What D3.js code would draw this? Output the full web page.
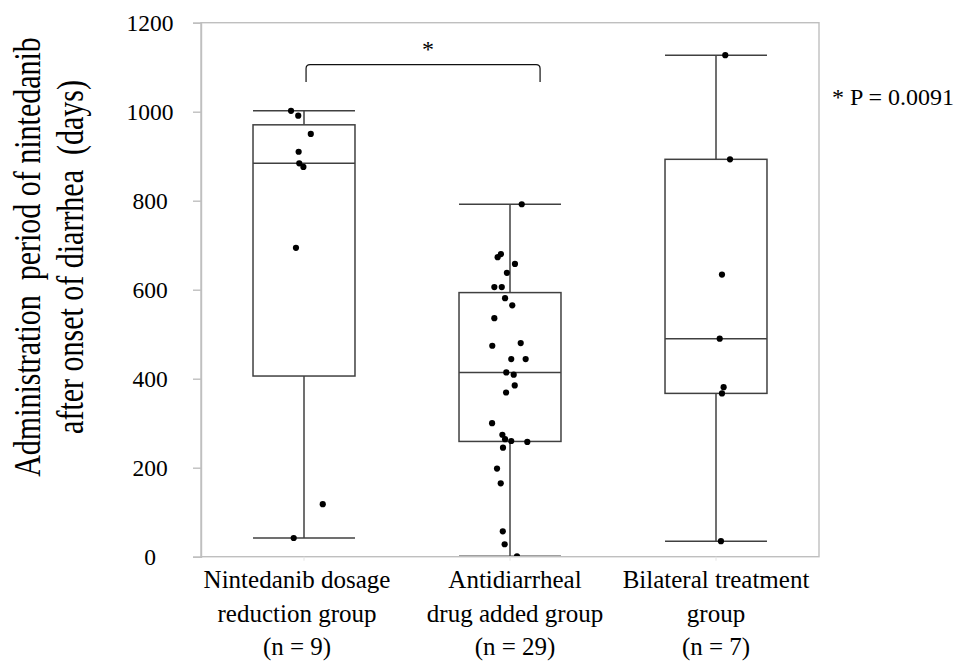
<!DOCTYPE html>
<html>
<head>
<meta charset="utf-8">
<script src="https://cdn.jsdelivr.net/npm/d3@7"></script>
<style>
  html, body { margin: 0; padding: 0; background: #fff; }
  svg { display: block; }
  text { font-family: "Liberation Serif", "Times New Roman", serif; fill: #000; white-space: pre; }
</style>
</head>
<body>
<svg id="chart" width="965" height="664"></svg>
<script>
// ---------------- DATA ----------------
const categories = ["reduction", "antidiarrheal", "bilateral"];
const categoryLabels = [
  ["Nintedanib dosage", "reduction group", "(n = 9)"],
  ["Antidiarrheal", "drug added group", "(n = 29)"],
  ["Bilateral treatment", "group", "(n = 7)"]
];
// days
const reductionValues = [1002, 991, 950, 910, 884, 876, 694, 118, 42];
const antidiarrhealValues = [792, 680, 673, 658, 638, 606, 606, 581, 565, 536, 474, 480, 444, 444, 414,
  409, 385, 369, 300, 274, 264, 260, 258, 245, 198, 165, 57, 28, 1];
const bilateralValues = [1127, 893, 634, 490, 381, 367, 35];
// horizontal jitter of each point, as a fraction of the category width
const reductionJitter = [-0.063, -0.028, 0.033, -0.026, -0.023, -0.003, -0.039, 0.091, -0.05];
const antidiarrhealJitter = [0.057, -0.044, -0.06, 0.024, -0.015, -0.076, -0.04, -0.024, 0.011, -0.076,
  -0.086, 0.052, 0.006, 0.076, -0.018, 0.018, 0.023, -0.019, -0.087, -0.037, -0.024, 0.006, 0.084,
  -0.034, -0.063, -0.045, -0.035, -0.026, 0.034];
const bilateralJitter = [0.045, 0.068, 0.029, 0.018, 0.037, 0.029, 0.024];
const yTicks = [0, 200, 400, 600, 800, 1000, 1200];
const yTitleLines = ["Administration  period of nintedanib", "after onset of diarrhea  (days)"];
const significance = { from: 0, to: 1, top: 1106, bottom: 1067, spanFrom: 0.01, spanTo: 1.146, mark: "*" };
const pValueText = "* P = 0.0091";

// ---------------- LAYOUT ----------------
const plot = { left: 201, right: 819, top: 22.7, bottom: 556.7 };
const labelShift = [-7, 5, 0];
const frameColor = "#bfbfbf";
const boxColor = "#404040";

const svg = d3.select("#chart");

const x = d3.scaleBand().domain(categories).range([plot.left, plot.right]).padding(0);
const y = d3.scaleLinear().domain([0, 1200]).range([plot.bottom, plot.top]);
const centerOf = c => x(c) + x.bandwidth() / 2;
const idx = d3.scaleLinear().domain([0, 1]).range([centerOf(categories[0]), centerOf(categories[1])]);

const groups = [
  { key: categories[0], values: reductionValues, jitter: reductionJitter },
  { key: categories[1], values: antidiarrhealValues, jitter: antidiarrhealJitter },
  { key: categories[2], values: bilateralValues, jitter: bilateralJitter }
];

// Excel-style exclusive quartile
function quartileExc(sorted, p) {
  const n = sorted.length;
  const h = (n + 1) * p;
  const lo = Math.floor(h);
  const f = h - lo;
  if (lo < 1) return sorted[0];
  if (lo >= n) return sorted[n - 1];
  return sorted[lo - 1] + f * (sorted[lo] - sorted[lo - 1]);
}
groups.forEach(g => {
  const s = g.values.slice().sort(d3.ascending);
  g.q1 = quartileExc(s, 0.25);
  g.med = d3.median(s);
  g.q3 = quartileExc(s, 0.75);
  const iqr = g.q3 - g.q1;
  g.lo = d3.min(s.filter(v => v >= g.q1 - 1.5 * iqr));
  g.hi = d3.max(s.filter(v => v <= g.q3 + 1.5 * iqr));
});

// clip
svg.append("defs").append("clipPath").attr("id", "plotClip")
  .append("rect").attr("x", plot.left).attr("y", plot.top)
  .attr("width", plot.right - plot.left).attr("height", plot.bottom - plot.top);

const marks = svg.append("g").attr("clip-path", "url(#plotClip)");
const boxW = x.bandwidth() * 0.495;

groups.forEach(g => {
  const cx = centerOf(g.key);
  const gg = marks.append("g");
  // whiskers
  gg.append("line").attr("x1", cx).attr("x2", cx).attr("y1", y(g.hi)).attr("y2", y(g.q3))
    .attr("stroke", boxColor).attr("stroke-width", 1.5);
  gg.append("line").attr("x1", cx).attr("x2", cx).attr("y1", y(g.q1)).attr("y2", y(g.lo))
    .attr("stroke", boxColor).attr("stroke-width", 1.5);
  [g.hi, g.lo].forEach(v => {
    gg.append("line").attr("x1", cx - boxW / 2).attr("x2", cx + boxW / 2)
      .attr("y1", y(v)).attr("y2", y(v)).attr("stroke", boxColor).attr("stroke-width", 1.5);
  });
  // box
  gg.append("rect").attr("x", cx - boxW / 2).attr("width", boxW)
    .attr("y", y(g.q3)).attr("height", y(g.q1) - y(g.q3))
    .attr("fill", "#fff").attr("stroke", boxColor).attr("stroke-width", 1.5);
  gg.append("line").attr("x1", cx - boxW / 2).attr("x2", cx + boxW / 2)
    .attr("y1", y(g.med)).attr("y2", y(g.med)).attr("stroke", boxColor).attr("stroke-width", 1.5);
  // points
  gg.selectAll("circle").data(g.values.map((v, i) => ({ v, j: g.jitter[i] })))
    .join("circle")
    .attr("cx", d => cx + d.j * x.bandwidth())
    .attr("cy", d => y(d.v))
    .attr("r", 3.1)
    .attr("fill", "#000");
});

// frame
svg.append("rect").attr("x", plot.left).attr("y", plot.top)
  .attr("width", plot.right - plot.left).attr("height", plot.bottom - plot.top)
  .attr("fill", "none").attr("stroke", frameColor).attr("stroke-width", 1.4);

// y axis
const yAxis = svg.append("g").attr("transform", `translate(${plot.left},0)`)
  .call(d3.axisLeft(y).tickValues(yTicks).tickSize(8).tickFormat(d3.format("d")));
yAxis.select(".domain").attr("stroke", frameColor).attr("stroke-width", 1.4);
yAxis.selectAll(".tick line").attr("stroke", frameColor).attr("stroke-width", 1.4);
yAxis.selectAll(".tick text")
  .attr("x", 150 - plot.left).attr("text-anchor", "middle")
  .attr("dy", "0.34em")
  .style("font-size", "23.5px").style("font-family", "'Liberation Serif', serif").attr("fill", "#111");

// x axis (tiny ticks)
const xAxis = svg.append("g").attr("transform", `translate(0,${plot.bottom})`)
  .call(d3.axisBottom(x).tickSize(4).tickFormat(""));
xAxis.select(".domain").remove();
xAxis.selectAll(".tick line").attr("stroke", "#e4e4e4").attr("stroke-width", 1);

// category labels
categories.forEach((c, i) => {
  const t = svg.append("text")
    .attr("x", centerOf(c) + labelShift[i]).attr("y", 588)
    .attr("text-anchor", "middle").style("font-size", "25px");
  categoryLabels[i].forEach((line, k) => {
    t.append("tspan").attr("x", centerOf(c) + labelShift[i]).attr("y", 588 + k * 33.5).text(line);
  });
});

// y title
yTitleLines.forEach((line, k) => {
  svg.append("text")
    .attr("transform", `translate(${40 + k * 43.3},257) scale(1.25,1) rotate(-90)`)
    .attr("text-anchor", "middle").style("font-size", "30px").text(line);
});

// significance bracket
const bx1 = idx(significance.spanFrom), bx2 = idx(significance.spanTo);
const byT = y(significance.top), byB = y(significance.bottom);
const r = 4;
svg.append("path")
  .attr("d", `M${bx1},${byB} L${bx1},${byT + r} Q${bx1},${byT} ${bx1 + r},${byT} L${bx2 - r},${byT} Q${bx2},${byT} ${bx2},${byT + r} L${bx2},${byB}`)
  .attr("fill", "none").attr("stroke", "#111").attr("stroke-width", 1.2);
svg.append("text").attr("x", (bx1 + bx2) / 2 + 5).attr("y", byT - 8)
  .attr("text-anchor", "middle").style("font-size", "24px").text(significance.mark);

// p value
svg.append("text").attr("x", plot.right + 13).attr("y", 105)
  .style("font-size", "24px").text(pValueText);
</script>
</body>
</html>
